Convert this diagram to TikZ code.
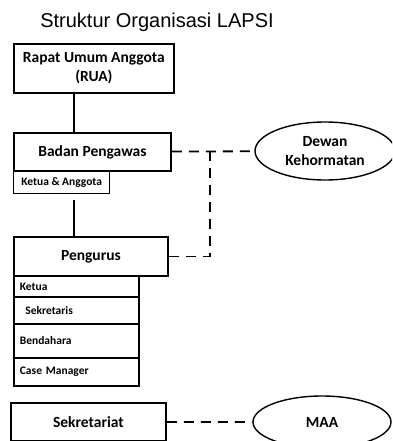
\documentclass[tikz,border=0pt]{standalone}
\usepackage{fontspec}
\usetikzlibrary{shapes.geometric, positioning}
\setmainfont{Liberation Sans}
\newfontfamily\carlito{Carlito}
\newcommand{\TitleFont}{\fontsize{20}{24}\selectfont}
\newcommand{\BigBox}{\fontsize{15.5}{19}\selectfont\carlito\bfseries}
\newcommand{\SmallBox}{\fontsize{11.5}{13}\selectfont\carlito\bfseries}

\begin{document}
\begin{tikzpicture}[x=1pt, y=-1pt, line width=1.8pt,
  box/.style={draw, rectangle, anchor=north west, inner sep=0pt, font=\BigBox},
  sub/.style={draw, rectangle, anchor=north west, inner ysep=0pt, font=\SmallBox, align=left},
  oval/.style={draw, ellipse, inner sep=0pt, font=\BigBox, align=center, line width=1.4pt},
  link/.style={dash pattern=on 10pt off 7pt}]
  \useasboundingbox (0,0) rectangle (392,441);
  \clip (0,0) rectangle (392,441);
  \node (T) at (157,22) {\TitleFont Struktur Organisasi LAPSI};
  \node[box, minimum width=160pt, minimum height=49pt, align=center] (RUA) at (13,43) {Rapat Umum Anggota\\(RUA)};
  \node[box, minimum width=157pt, minimum height=38pt] (BP) at (13,132) {Badan Pengawas};
  \node[sub, minimum width=96pt, minimum height=23pt, line width=1.3pt] (BPa) at (13,170) {Ketua \& Anggota};
  \node[box, minimum width=154pt, minimum height=39pt] (P) at (13,236) {Pengurus};
  \node[sub, text width=113pt, inner xsep=6pt, minimum height=21pt] (P1) at (13,275) {Ketua};
  \node[sub, text width=102pt, inner xsep=11.5pt, minimum height=27pt] (P2) at (13,296) {Sekretaris};
  \node[sub, text width=113pt, inner xsep=6pt, minimum height=34pt] (P3) at (13,323) {Bendahara};
  \node[sub, text width=113pt, inner xsep=6pt, minimum height=28pt] (P4) at (13,357) {Case Manager};
  \node[box, minimum width=155pt, minimum height=38pt] (S) at (10,402) {Sekretariat};
  \node[oval, minimum width=140pt, minimum height=58pt] (DK) at (325,151) {Dewan\\Kehormatan};
  \node[oval, minimum width=138pt, minimum height=52pt] (MAA) at (322,422) {MAA};
  \coordinate (J) at (210,151);
  \draw ([xshift=61pt]RUA.south west) -- ([xshift=61pt]BP.north west);
  \draw[shorten <=6pt] ([xshift=61pt]BPa.south west) -- ([xshift=61pt]P.north west);
  \draw[link] (BP) -- (DK);
  \draw[link] (J) |- (P);
  \draw[link] (S) -- (MAA);
\end{tikzpicture}
\end{document}
